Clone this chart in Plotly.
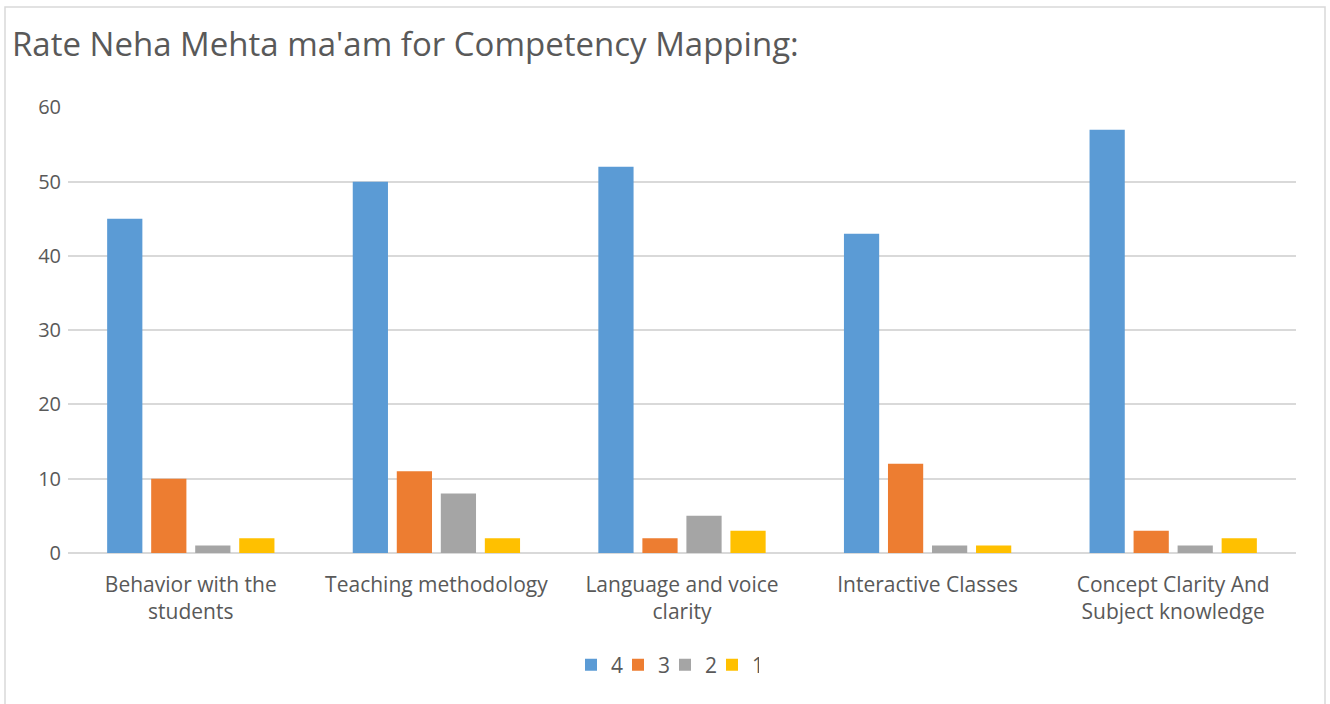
import plotly.graph_objects as go

categories = ["Behavior with the<br>students", "Teaching methodology", "Language and voice<br>clarity",
              "Interactive Classes", "Concept Clarity And<br>Subject knowledge"]
series_names = ["4", "3", "2", "1"]
rating_4 = [45, 50, 52, 43, 57]
rating_3 = [10, 11, 2, 12, 3]
rating_2 = [1, 8, 5, 1, 1]
rating_1 = [2, 2, 3, 1, 2]
y_ticks = [0, 10, 20, 30, 40, 50, 60]

colors = ["#5B9BD5", "#ED7D31", "#A5A5A5", "#FFC000"]
FONT = "Open Sans"
GRAY = "#595959"

fig = go.Figure()
for name, vals, col in zip(series_names, [rating_4, rating_3, rating_2, rating_1], colors):
    fig.add_trace(go.Bar(x=categories, y=vals, name=name, marker_color=col, marker_line_width=0))

fig.update_layout(
    width=1330, height=704,
    margin=dict(l=68, r=34, t=107, b=151),
    paper_bgcolor="white", plot_bgcolor="white",
    barmode="group", bargap=0.283, bargroupgap=0.2,
    font=dict(family=FONT, color=GRAY, size=20),
    title=dict(text="Rate Neha Mehta ma'am for Competency Mapping:", xref="container", x=12 / 1330,
               xanchor="left", y=1 - 44 / 704, yanchor="middle",
               font=dict(family=FONT, size=33, color=GRAY)),
    legend=dict(orientation="h", xref="container", x=0.5, xanchor="center",
                yref="container", y=1 - 665 / 704, yanchor="middle",
                itemwidth=30, entrywidth=2, entrywidthmode="pixels",
                font=dict(size=21, color=GRAY), traceorder="normal"),
    showlegend=True,
)
fig.update_yaxes(range=[0, 60.05], tickvals=y_ticks, gridcolor="#D9D9D9", gridwidth=1.5,
                 zeroline=True, zerolinecolor="#D9D9D9", zerolinewidth=1.5,
                 showline=False, ticks="", tickfont=dict(size=20, color=GRAY), ticklabelstandoff=6)
fig.update_xaxes(showline=False, ticks="", tickfont=dict(size=21, color=GRAY), tickangle=0,
                 ticklabelstandoff=17)

fig.add_shape(type="rect", xref="paper", yref="paper",
              x0=(5 - 68) / 1228, x1=(1325 - 68) / 1228, y0=(553 - 720) / 446, y1=(553 - 7) / 446,
              line=dict(color="#D9D9D9", width=1.5), fillcolor="rgba(0,0,0,0)", layer="below")

fig.write_html("out.html", config={"displayModeBar": False},
               post_script="document.body.style.margin='0';")
